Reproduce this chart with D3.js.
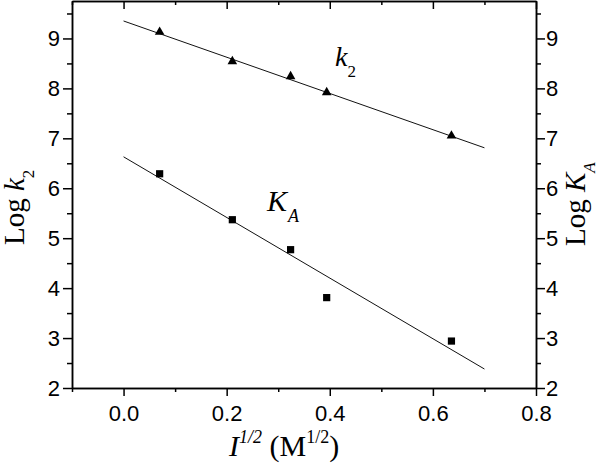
<!DOCTYPE html>
<html>
<head>
<meta charset="utf-8">
<script src="https://cdn.jsdelivr.net/npm/d3@7"></script>
<style>
    body { margin: 0; background: #fff; }
    svg { display: block; }
    .serif { font-family: 'Liberation Serif', 'Times New Roman', serif; }
    .axis text { font-family: 'Liberation Sans', Arial, sans-serif; font-size: 22px; fill: #000; }
    .axis path, .axis line { stroke: #000; stroke-width: 1.5px; }
</style>
</head>
<body>
<svg id="chart" width="600" height="464"></svg>
<script>
// ionic strength (sqrt) and the two measured series
var sqrtI = [0.070, 0.211, 0.324, 0.394, 0.636]
var logK2 = [9.13, 8.54, 8.24, 7.92, 7.05]
var logKA = [6.29, 5.37, 4.77, 3.81, 2.94]

// linear fits, read at the ends of the drawn segments
var fitX = [0.0, 0.7]
var k2Fit = [9.35, 6.81]
var kaFit = [6.63, 2.38]

var xMajor = [0.0, 0.2, 0.4, 0.6, 0.8]
var xMinor = [-0.1, 0.1, 0.3, 0.5, 0.7]
var yMajor = [2, 3, 4, 5, 6, 7, 8, 9]
var yMinor = [2.5, 3.5, 4.5, 5.5, 6.5, 7.5, 8.5, 9.5]

var plotL = 72, plotR = 536, plotT = 1, plotB = 388

var svg = d3.select('#chart')

var x = d3.scaleLinear().domain([-0.1, 0.8]).range([plotL, plotR])
var y = d3.scaleLinear().domain([2, 9.75]).range([plotB, plotT])

function addAxis(axis, tx, ty) {
    svg.append('g')
        .attr('class', 'axis')
        .attr('transform', 'translate(' + tx + ',' + ty + ')')
        .call(axis)
}

// minor ticks first, no labels
addAxis(d3.axisBottom(x).tickValues(xMinor).tickSize(4).tickSizeOuter(0).tickFormat(''), 0, plotB)
addAxis(d3.axisBottom(x).tickValues(xMinor).tickSize(4).tickSizeOuter(0).tickFormat(''), 0, plotT)
addAxis(d3.axisLeft(y).tickValues(yMinor).tickSize(5).tickSizeOuter(0).tickFormat(''), plotL, 0)
addAxis(d3.axisRight(y).tickValues(yMinor).tickSize(5).tickSizeOuter(0).tickFormat(''), plotR, 0)

// major ticks with labels
addAxis(d3.axisBottom(x).tickValues(xMajor).tickSize(8).tickSizeOuter(0).tickPadding(9).tickFormat(d3.format('.1f')), 0, plotB)
addAxis(d3.axisBottom(x).tickValues(xMajor).tickSize(8).tickSizeOuter(0).tickFormat(''), 0, plotT)
addAxis(d3.axisLeft(y).tickValues(yMajor).tickSize(9).tickSizeOuter(0).tickPadding(3).tickFormat(d3.format('d')), plotL, 0)
addAxis(d3.axisRight(y).tickValues(yMajor).tickSize(9).tickSizeOuter(0).tickPadding(1).tickFormat(d3.format('d')), plotR, 0)

// fit lines
var line = d3.line()
    .x(function(d) { return x(d[0]) })
    .y(function(d) { return y(d[1]) })

svg.append('path')
    .datum(d3.zip(fitX, k2Fit))
    .attr('d', line)
    .style('fill', 'none')
    .style('stroke', '#111')
    .style('stroke-width', 1)

svg.append('path')
    .datum(d3.zip(fitX, kaFit))
    .attr('d', line)
    .style('fill', 'none')
    .style('stroke', '#111')
    .style('stroke-width', 1)

// markers
svg.append('g').selectAll('path')
    .data(d3.zip(sqrtI, logK2))
    .enter()
    .append('path')
    .attr('transform', function(d) {
        return 'translate(' + x(d[0]) + ',' + y(d[1]) + ')'
    })
    .attr('d', d3.symbol().type(d3.symbolTriangle).size(40))
    .style('fill', '#000')

svg.append('g').selectAll('rect')
    .data(d3.zip(sqrtI, logKA))
    .enter()
    .append('rect')
    .attr('x', function(d) { return x(d[0]) - 3.6 })
    .attr('y', function(d) { return y(d[1]) - 3.6 })
    .attr('width', 7.2)
    .attr('height', 7.2)
    .style('fill', '#000')

// series labels
var k2Label = svg.append('text').attr('class', 'serif')
    .attr('x', 335).attr('y', 66)
    .style('font-size', '28px')
k2Label.append('tspan').style('font-style', 'italic').text('k')
k2Label.append('tspan').attr('dy', 11).style('font-size', '17px').text('2')

var kaLabel = svg.append('text').attr('class', 'serif')
    .attr('x', 267).attr('y', 211)
    .style('font-size', '30px')
kaLabel.append('tspan').style('font-style', 'italic').text('K')
kaLabel.append('tspan').attr('dy', 11).attr('dx', 1).style('font-size', '18px').style('font-style', 'italic').text('A')

// axis titles
var xTitle = svg.append('text').attr('class', 'serif')
    .attr('x', 229).attr('y', 456)
    .style('font-size', '30px')
xTitle.append('tspan').style('font-style', 'italic').text('I')
xTitle.append('tspan').attr('dy', -13).style('font-size', '18px').style('font-style', 'italic').text('1/2')
xTitle.append('tspan').attr('dy', 13).text(' (M')
xTitle.append('tspan').attr('dy', -13).style('font-size', '18px').text('1/2')
xTitle.append('tspan').attr('dy', 13).text(')')

var yTitleL = svg.append('text').attr('class', 'serif')
    .attr('transform', 'translate(24,245) rotate(-90)')
    .style('font-size', '29px')
yTitleL.append('tspan').text('Log ')
yTitleL.append('tspan').style('font-style', 'italic').text('k')
yTitleL.append('tspan').attr('dy', 10).style('font-size', '17px').text('2')

var yTitleR = svg.append('text').attr('class', 'serif')
    .attr('transform', 'translate(585,246) rotate(-90)')
    .style('font-size', '29px')
yTitleR.append('tspan').text('Log ')
yTitleR.append('tspan').style('font-style', 'italic').text('K')
yTitleR.append('tspan').attr('dy', 10).style('font-size', '17px').style('font-style', 'italic').text('A')
</script>
</body>
</html>
